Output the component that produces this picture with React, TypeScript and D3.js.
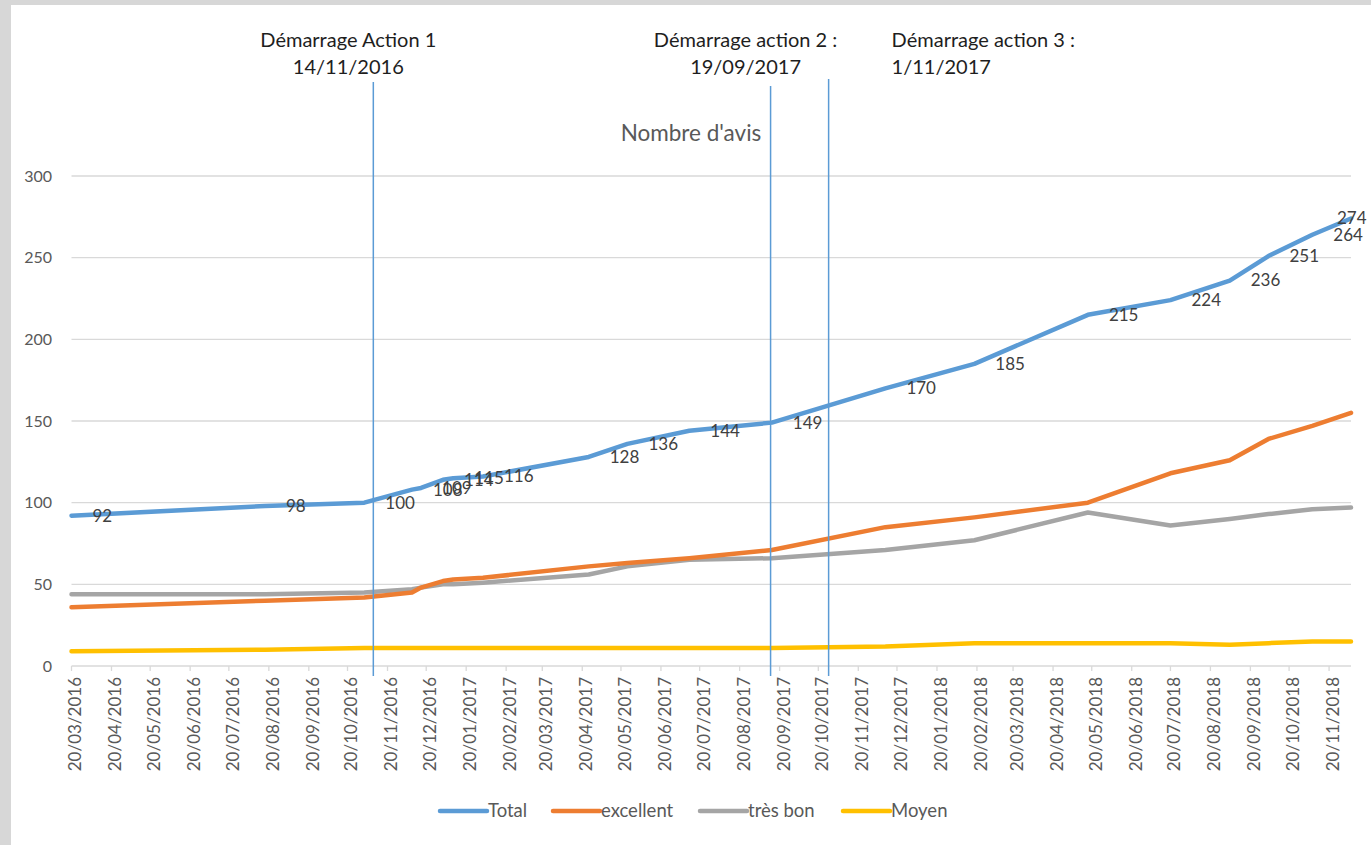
import React from 'react';
import * as d3 from 'd3';

// dates of the review counts (dd/mm/yyyy)
const dates = [
  '20/03/2016', '17/08/2016', '02/11/2016', '09/12/2016', '16/12/2016',
  '02/01/2017', '10/01/2017', '02/02/2017', '25/04/2017', '25/05/2017',
  '12/07/2017', '14/09/2017', '11/12/2017', '18/02/2018', '17/05/2018',
  '20/07/2018', '04/09/2018', '04/10/2018', '07/11/2018', '07/12/2018',
];
const total = [92, 98, 100, 108, 109, 114, 115, 116, 128, 136, 144, 149, 170, 185, 215, 224, 236, 251, 264, 274];
const excellent = [36, 40, 42, 45, 48, 52, 53, 54, 61, 63, 66, 71, 85, 91, 100, 118, 126, 139, 147, 155];
const tresBon = [44, 44, 45, 47, 48, 50, 50, 51, 56, 61, 65, 66, 71, 77, 94, 86, 90, 93, 96, 97];
const moyen = [9, 10, 11, 11, 11, 11, 11, 11, 11, 11, 11, 11, 12, 14, 14, 14, 13, 14, 15, 15];

const yTicks = [0, 50, 100, 150, 200, 250, 300];
const firstTick = '20/03/2016';
const tickCount = 33;

// vertical markers: where the lines sit on the chart + their captions
const actions = [
  { at: '09/11/2016', lines: ['Démarrage Action 1', '14/11/2016'], align: 'middle', top: 82 },
  { at: '13/09/2017', lines: ['Démarrage action 2 :', '19/09/2017'], align: 'middle', top: 86 },
  { at: '28/10/2017', lines: ['Démarrage action 3 :', '1/11/2017'], align: 'start', top: 79 },
];

const seriesList = [
  { name: 'Total', values: total, color: '#5B9BD5' },
  { name: 'excellent', values: excellent, color: '#ED7D31' },
  { name: 'très bon', values: tresBon, color: '#A5A5A5' },
  { name: 'Moyen', values: moyen, color: '#FFC000' },
];

const W = 1371;
const H = 845;
const font = 'Lato, "Open Sans", sans-serif';

export default function App() {
  const parse = d3.timeParse('%d/%m/%Y');
  const fmt = d3.timeFormat('%d/%m/%Y');
  const xs = dates.map(d => parse(d) as Date);

  const margin = { left: 71.5, right: 20, top: 176, bottom: 179 };
  const x = d3.scaleTime()
    .domain([xs[0], xs[xs.length - 1]])
    .range([margin.left, W - margin.right]);
  const y = d3.scaleLinear().domain([0, 300]).range([H - margin.bottom, margin.top]);

  const start = parse(firstTick) as Date;
  const ticks = d3.range(tickCount).map(i => d3.timeMonth.offset(start, i));

  const line = d3.line<number>()
    .x((_, i) => x(xs[i]))
    .y(v => y(v));

  const legendX = [440, 553, 700, 843];

  return (
    <svg width={W} height={H} style={{ position: 'absolute', left: 0, top: 0 }} fontFamily={font}>
      <rect width={W} height={H} fill="#d7d7d7" />
      <rect x={11} y={5} width={W - 11} height={H - 5} fill="#ffffff" />

      {/* gridlines + y labels */}
      {yTicks.map(t => (
        <g key={t}>
          <line x1={x.range()[0]} x2={x.range()[1]} y1={y(t)} y2={y(t)} stroke="#d9d9d9" strokeWidth={1.3} />
          <text x={52} y={y(t)} dy="0.35em" textAnchor="end" fontSize={16} fill="#595959">{t}</text>
        </g>
      ))}

      {/* x ticks + rotated labels */}
      {ticks.map((t, i) => (
        <g key={i} transform={`translate(${x(t)},${y(0)})`}>
          <line y1={0} y2={5} stroke="#d9d9d9" strokeWidth={1.3} />
          <text transform="translate(4,11) rotate(-90)" dy="0.35em" textAnchor="end" fontSize={17} fill="#595959">
            {fmt(t)}
          </text>
        </g>
      ))}

      {/* series */}
      {seriesList.slice().reverse().map(s => (
        <path key={s.name} d={line(s.values) || ''} fill="none" stroke={s.color}
          strokeWidth={4.5} strokeLinejoin="round" strokeLinecap="round" />
      ))}

      {/* action markers */}
      {actions.map(a => {
        const ax = x(parse(a.at) as Date);
        const tx = a.align === 'start' ? ax + 63 : ax - 25;
        return (
          <g key={a.at}>
            <line x1={ax} x2={ax} y1={a.top} y2={676} stroke="#5B9BD5" strokeWidth={1.5} />
            {a.lines.map((l, j) => (
              <text key={j} x={tx} y={40 + j * 27} dy="0.35em" textAnchor={a.align} fontSize={20} fill="#1e1e1e">{l}</text>
            ))}
          </g>
        );
      })}

      {/* data labels (Total, right of point) */}
      {total.map((v, i) => (
        <text key={i} x={Math.min(x(xs[i]) + 21, 1337)} y={y(v)} dy="0.35em" fontSize={17} fill="#404040">{v}</text>
      ))}

      <text x={691} y={133} dy="0.35em" textAnchor="middle" fontSize={22.5} fill="#595959">Nombre d'avis</text>

      {/* legend */}
      {seriesList.map((s, i) => (
        <g key={s.name} transform={`translate(${legendX[i]},811)`}>
          <line x1={0} x2={47} stroke={s.color} strokeWidth={4.5} strokeLinecap="round" />
          <text x={48} dy="0.35em" fontSize={18.5} fill="#595959">{s.name}</text>
        </g>
      ))}
    </svg>
  );
}
